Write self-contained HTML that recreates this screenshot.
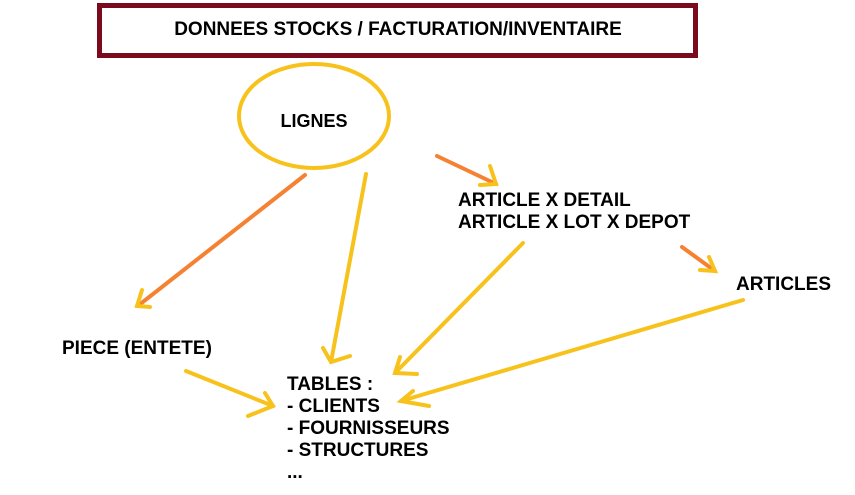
<!DOCTYPE html>
<html><head><style>
body{margin:0;background:#fff;width:855px;height:495px;overflow:hidden}
svg{position:absolute;left:0;top:0}
text{font-family:"Liberation Sans",sans-serif;font-weight:bold;font-size:19px;fill:#000}
</style></head><body>
<svg width="855" height="495" viewBox="0 0 855 495">
<rect x="99.5" y="5.5" width="596" height="50" fill="#fff" stroke="#7b0a1c" stroke-width="5"/>
<text x="398" y="35" text-anchor="middle">DONNEES STOCKS / FACTURATION/INVENTAIRE</text>
<ellipse cx="314" cy="116" rx="75" ry="52" fill="none" stroke="#f8c21c" stroke-width="4"/>
<text x="314" y="127" text-anchor="middle" style="font-size:18px">LIGNES</text>
<g fill="none" stroke-width="4" stroke-linecap="round">
<g stroke="#f58233">
<line x1="305" y1="175" x2="139" y2="305"/>
<line x1="437" y1="156" x2="496" y2="184"/>
<line x1="682" y1="247" x2="715" y2="271"/>
</g>
<g stroke="#f8c21c">
<polyline points="142,290 137,306 150,307"/>
<polyline points="490,166 496,184 480,185"/>
<polyline points="709,257 715,271 700,270"/>
<line x1="366" y1="174" x2="331" y2="362"/>
<polyline points="323,348 331,362 350,356"/>
<line x1="523" y1="243" x2="395" y2="373"/>
<polyline points="400,357 395,373 417,374"/>
<line x1="743" y1="300" x2="401" y2="401"/>
<polyline points="413,391 401,401 429,406"/>
<line x1="186" y1="371" x2="273" y2="406"/>
<polyline points="265,393 273,406 248,416"/>
</g>
</g>
<text x="458" y="206">ARTICLE X DETAIL</text>
<text x="458" y="228">ARTICLE X LOT X DEPOT</text>
<text x="736" y="290">ARTICLES</text>
<text x="62" y="354">PIECE (ENTETE)</text>
<text x="287" y="390">TABLES :</text>
<text x="287" y="412">- CLIENTS</text>
<text x="287" y="434">- FOURNISSEURS</text>
<text x="287" y="456">- STRUCTURES</text>
<text x="287" y="478">...</text>
</svg>
</body></html>
